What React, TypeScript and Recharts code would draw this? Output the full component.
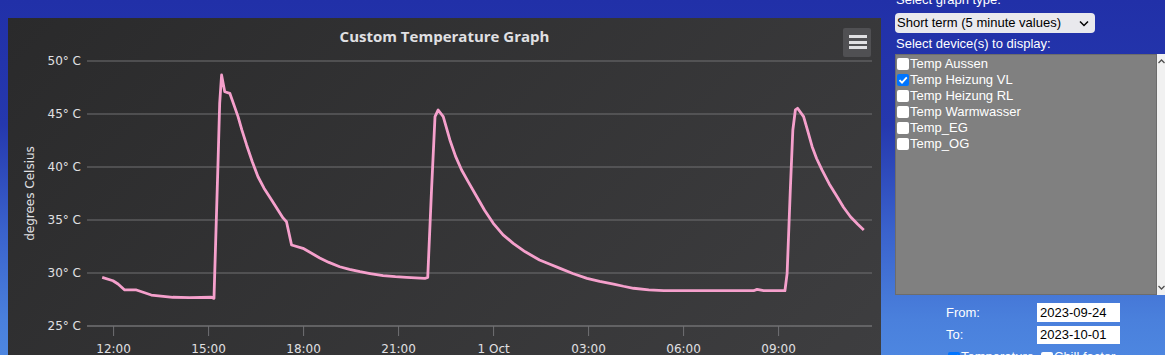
import React from 'react';
import { LineChart, Line, XAxis, YAxis, CartesianGrid, Label } from 'recharts';

// time in hours since 2023-09-30 00:00
const hours = [
  11.64, 11.98, 12.14, 12.35, 12.72, 13.19, 13.87, 14.4, 15.09, 15.17,
  15.3, 15.35, 15.41, 15.51, 15.67, 15.93, 16.05, 16.2, 16.38, 16.56,
  16.75, 16.99, 17.2, 17.35, 17.46, 17.62, 17.98, 18.51, 18.8, 19.14,
  19.45, 19.78, 20.1, 20.51, 20.9, 21.25, 21.83, 21.92, 22.04, 22.15,
  22.25, 22.41, 22.62, 22.8, 22.99, 23.2, 23.47, 23.72, 23.99, 24.3,
  24.62, 25.0, 25.45, 25.8, 26.1, 26.5, 26.95, 27.35, 27.79, 28.1,
  28.42, 28.9, 29.37, 32.21, 32.32, 32.53, 33.2, 33.27, 33.37, 33.45,
  33.53, 33.6, 33.79, 33.92, 34.06, 34.2, 34.37, 34.6, 34.85, 35.05,
  35.27, 35.5, 35.69,
];
const tempHeizungVL = [
  29.59, 29.27, 28.96, 28.4, 28.4, 27.92, 27.71, 27.67, 27.71, 27.61,
  40.66, 46.01, 48.68, 47.1, 46.95, 44.75, 43.5, 42.08, 40.5, 39.08,
  38.0, 36.89, 35.9, 35.2, 34.84, 32.64, 32.33, 31.42, 31.0, 30.59,
  30.35, 30.12, 29.95, 29.75, 29.65, 29.59, 29.49, 29.58, 37.83, 44.75,
  45.38, 44.75, 42.55, 41.0, 39.72, 38.6, 37.2, 35.9, 34.69, 33.6,
  32.8, 32.0, 31.23, 30.8, 30.44, 29.95, 29.5, 29.2, 28.96, 28.75,
  28.56, 28.4, 28.33, 28.33, 28.46, 28.33, 28.33, 29.97, 37.83, 43.49,
  45.38, 45.54, 44.75, 43.4, 41.92, 40.8, 39.72, 38.4, 37.2, 36.2,
  35.31, 34.6, 34.06,
];
const xTicks = [12, 15, 18, 21, 24, 27, 30, 33];
const xTickLabels = ['12:00', '15:00', '18:00', '21:00', '1 Oct', '03:00', '06:00', '09:00'];
const yTicks = [25, 30, 35, 40, 45, 50];
const devices = ['Temp Aussen', 'Temp Heizung VL', 'Temp Heizung RL', 'Temp Warmwasser', 'Temp_EG', 'Temp_OG'];
const deviceChecked = [false, true, false, false, false, false];

const data = hours.map((h, i) => ({ t: h, v: tempHeizungVL[i] }));

const chartFont = '"DejaVu Sans", Verdana, sans-serif';
const uiFont = 'Arial, "Liberation Sans", sans-serif';

function CheckBox({ checked, left, top }: { checked: boolean; left: number; top: number }) {
  return (
    <div
      style={{
        position: 'absolute',
        left,
        top,
        width: 12,
        height: 12,
        borderRadius: 2,
        background: checked ? '#0075ff' : '#ffffff',
      }}
    >
      {checked && (
        <svg width={12} height={12} style={{ position: 'absolute', left: 0, top: 0 }}>
          <path d="M2.5 6.2 L5 8.7 L9.8 3.3" stroke="#fff" strokeWidth={1.8} fill="none" />
        </svg>
      )}
    </div>
  );
}

export default function App() {
  return (
    <div
      style={{
        position: 'absolute',
        left: 0,
        top: 0,
        width: 1165,
        height: 355,
        overflow: 'hidden',
        background: 'linear-gradient(to bottom, #2130a8 0%, #2538ae 35%, #3a62cc 65%, #4a80dc 90%, #4d86e0 100%)',
      }}
    >
      {/* chart panel */}
      <div
        style={{
          position: 'absolute',
          left: 8,
          top: 18,
          width: 873,
          height: 345,
          background: 'linear-gradient(135deg, #2a2a2b 0%, #3e3e40 100%)',
        }}
      >
        <div
          style={{
            position: 'absolute',
            left: 0,
            top: 8,
            width: 873,
            textAlign: 'center',
            color: '#E0E0E3',
            fontFamily: '"Open Sans", sans-serif',
            fontWeight: 700,
            fontSize: 15,
          }}
        >
          Custom Temperature Graph
        </div>
        <LineChart width={873} height={345} data={data} margin={{ top: 43, right: 9, left: 0, bottom: 7 }}>
          <CartesianGrid vertical={false} stroke="#707073" strokeWidth={1} />
          <XAxis
            dataKey="t"
            type="number"
            domain={[11.16, 35.95]}
            ticks={xTicks}
            allowDataOverflow
            interval={0}
            height={30}
            tickSize={10}
            tickMargin={8}
            stroke="#707073"
            tickFormatter={(v: number) => xTickLabels[xTicks.indexOf(v)] ?? ''}
            tick={{ fill: '#E0E0E3', fontSize: 12, fontFamily: chartFont }}
          />
          <YAxis
            type="number"
            domain={[25, 50]}
            ticks={yTicks}
            interval={0}
            width={79}
            tickLine={false}
            axisLine={false}
            tickSize={0}
            tickMargin={6}
            tickFormatter={(v: number) => `${v}° C`}
            tick={{ fill: '#E0E0E3', fontSize: 12, fontFamily: chartFont }}
          >
            <Label
              content={(props: any) => {
                const vb = props.viewBox || { y: 43, height: 265 };
                const cx = 22;
                const cy = vb.y + vb.height / 2;
                return (
                  <text
                    x={cx}
                    y={cy}
                    transform={`rotate(-90 ${cx} ${cy})`}
                    textAnchor="middle"
                    dominantBaseline="central"
                    fill="#E0E0E3"
                    fontSize={12}
                    fontFamily={chartFont}
                  >
                    degrees Celsius
                  </text>
                );
              }}
            />
          </YAxis>
          <Line
            type="linear"
            dataKey="v"
            stroke="#f5a0cc"
            strokeWidth={2.8}
            strokeLinejoin="round"
            dot={false}
            isAnimationActive={false}
          />
        </LineChart>
        {/* context menu button */}
        <div
          style={{
            position: 'absolute',
            left: 835,
            top: 10,
            width: 28,
            height: 29,
            borderRadius: 2,
            background: '#505053',
          }}
        >
          {[7, 12.5, 18].map((y) => (
            <div
              key={y}
              style={{ position: 'absolute', left: 6, top: y, width: 18, height: 3, background: '#E0E0E3' }}
            />
          ))}
        </div>
      </div>

      {/* side panel */}
      <div style={{ position: 'absolute', left: 896, top: -8, color: '#ffffff', fontFamily: uiFont, fontSize: 13, lineHeight: '15px' }}>
        Select graph type:
      </div>
      <div
        style={{
          position: 'absolute',
          left: 895,
          top: 13,
          width: 200,
          height: 20,
          borderRadius: 4,
          background: '#e9e9ed',
          fontFamily: uiFont,
          fontSize: 13,
          lineHeight: '20px',
          color: '#000',
        }}
      >
        <span style={{ position: 'absolute', left: 2, top: 0 }}>Short term (5 minute values)</span>
        <svg width={10} height={8} style={{ position: 'absolute', left: 184, top: 7 }}>
          <path d="M1 1.5 L5 5.5 L9 1.5" stroke="#000" strokeWidth={1.5} fill="none" />
        </svg>
      </div>
      <div style={{ position: 'absolute', left: 896, top: 36, color: '#ffffff', fontFamily: uiFont, fontSize: 13, lineHeight: '15px' }}>
        Select device(s) to display:
      </div>
      <div
        style={{
          position: 'absolute',
          left: 895,
          top: 54,
          width: 262,
          height: 241,
          background: '#808080',
          boxSizing: 'border-box',
          border: '1px solid #6c6c6c',
        }}
      />
      <div style={{ position: 'absolute', left: 1157, top: 54, width: 8, height: 241, background: '#f1f1f1' }}>
        <svg width={8} height={241} style={{ position: 'absolute', left: 0, top: 0 }}>
          <path d="M1.5 9 L4.5 6 L7.5 9" stroke="#505050" strokeWidth={1.3} fill="none" />
          <path d="M1.5 232 L4.5 235 L7.5 232" stroke="#505050" strokeWidth={1.3} fill="none" />
        </svg>
      </div>
      {devices.map((d, i) => (
        <React.Fragment key={d}>
          <CheckBox checked={deviceChecked[i]} left={897} top={58 + i * 16} />
          <div
            style={{
              position: 'absolute',
              left: 910,
              top: 56 + i * 16,
              height: 16,
              lineHeight: '16px',
              color: '#ffffff',
              fontFamily: uiFont,
              fontSize: 13,
              whiteSpace: 'nowrap',
            }}
          >
            {d}
          </div>
        </React.Fragment>
      ))}

      <div style={{ position: 'absolute', left: 946, top: 305, color: '#ffffff', fontFamily: uiFont, fontSize: 13, lineHeight: '15px' }}>
        From:
      </div>
      <div
        style={{
          position: 'absolute',
          left: 1037,
          top: 303,
          width: 83,
          height: 19,
          background: '#fff',
          fontFamily: uiFont,
          fontSize: 13,
          lineHeight: '19px',
          color: '#000',
          paddingLeft: 3,
          boxSizing: 'border-box',
        }}
      >
        2023-09-24
      </div>
      <div style={{ position: 'absolute', left: 946, top: 327, color: '#ffffff', fontFamily: uiFont, fontSize: 13, lineHeight: '15px' }}>
        To:
      </div>
      <div
        style={{
          position: 'absolute',
          left: 1037,
          top: 326,
          width: 83,
          height: 18,
          background: '#fff',
          fontFamily: uiFont,
          fontSize: 13,
          lineHeight: '18px',
          color: '#000',
          paddingLeft: 3,
          boxSizing: 'border-box',
        }}
      >
        2023-10-01
      </div>
      <CheckBox checked={true} left={948} top={352} />
      <div style={{ position: 'absolute', left: 961, top: 349, color: '#ffffff', fontFamily: uiFont, fontSize: 13, lineHeight: '15px' }}>
        Temperature
      </div>
      <CheckBox checked={false} left={1041} top={352} />
      <div style={{ position: 'absolute', left: 1054, top: 349, color: '#ffffff', fontFamily: uiFont, fontSize: 13, lineHeight: '15px' }}>
        Chill factor
      </div>
    </div>
  );
}
